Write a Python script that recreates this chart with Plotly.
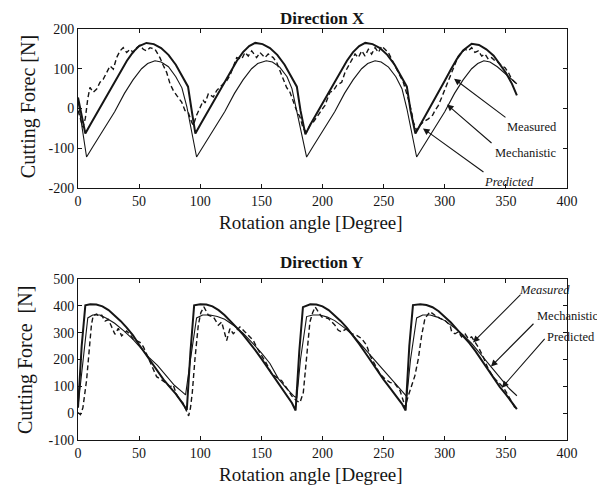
import plotly.graph_objects as go

# ---------------- Direction X data ----------------
mech_x_ang = [0, 3, 6, 10, 15, 20, 25, 30, 35, 40, 45, 50, 56, 62, 68, 74, 80, 85, 88, 90, 93, 96,
              100, 105, 110, 115, 120, 125, 130, 135, 140, 145, 151, 157, 163, 169, 174, 177, 179, 182, 186,
              190, 195, 200, 205, 210, 215, 220, 225, 230, 235, 241, 247, 253, 259, 264, 267, 269, 272, 276,
              280, 285, 290, 295, 300, 305, 310, 315, 322, 328, 334, 340, 345, 350, 355, 359]
mech_x_val = [28, -20, -63, -41, -14, 14, 41, 68, 94, 120, 142, 157, 165, 162, 152, 135, 110, 84, 68, 55, -5, -63,
              -41, -14, 14, 41, 68, 94, 120, 142, 157, 165, 162, 152, 135, 110, 84, 68, 55, -5, -65,
              -41, -14, 14, 41, 68, 94, 120, 142, 157, 165, 162, 152, 135, 110, 84, 68, 55, -5, -63,
              -41, -14, 14, 41, 70, 98, 125, 146, 163, 160, 149, 133, 112, 90, 62, 33]

pred_x_ang = [0, 7, 12, 18, 25, 30, 38, 45, 52, 57, 63, 68, 74, 80, 85, 89, 97,
              102, 108, 115, 120, 128, 135, 142, 147, 154, 159, 165, 171, 175, 179, 187,
              192, 198, 205, 210, 218, 225, 232, 237, 243, 248, 254, 260, 265, 269, 277,
              282, 288, 295, 300, 308, 315, 322, 327, 332, 337, 343, 349, 354, 359]
pred_x_val = [20, -122, -97, -68, -34, -8, 38, 72, 100, 113, 120, 117, 105, 80, 52, 5, -122,
              -97, -68, -34, -8, 38, 72, 100, 113, 120, 117, 104, 80, 50, -5, -122,
              -97, -68, -34, -8, 38, 72, 100, 113, 120, 117, 104, 80, 50, 0, -122,
              -97, -68, -34, -8, 38, 72, 100, 113, 120, 117, 105, 88, 75, 62]

meas_x_ang = [0, 2, 4, 6, 8, 9.8, 12.5, 15.3, 18, 20.7, 23.4, 26.2, 28.9, 31.6, 34.4, 37, 39.8, 42.5, 45.3, 48,
              50.7, 53.4, 56.2, 58.9, 63, 67, 69.8, 72.5, 75.3, 78, 80.7, 84.8, 87.5, 90.3, 92.9, 94.3, 97, 99.8,
              102.5, 104, 106.6, 110.7, 113.4, 117.5, 121.6, 124.3, 127, 129.8, 133.9, 136.6, 139.3, 142.1, 146.1,
              148.8, 152.9, 155.6, 159.7, 162.5, 165.2, 167.9, 170.6, 173.4, 176.1, 178.8, 181.6, 184.3, 187,
              189.8, 192.5, 195.2, 198,
              202, 206.1, 208.9, 211.6, 215.7, 218.4, 221.1, 223.9, 226.6, 229.3, 232.1, 234.8, 237.5, 240.2, 243,
              245.7, 248.4, 251.1, 253.8, 257.9, 262, 266.1, 270.2, 272.9, 274.3, 277, 279.7, 282.5, 286.6, 290, 292,
              294.8, 297.5, 300.2, 302.9, 305.7, 308.4, 311.1, 313.8, 316.6, 319.3, 322, 324.7, 327.5, 330.2, 332.9,
              335.6, 338.3, 341.1, 343.8, 346.5, 349.2, 352, 354.7, 357.4, 358.8]
meas_x_val = [-5, -28, -47, -25, 25, 53, 41, 49, 66, 74, 91, 107, 99, 128, 145, 153, 141, 149, 141, 153,
              159, 149, 145, 153, 149, 128, 108, 91, 62, 45, 33, 16, -5, -11, -34, -42, -17, 3,
              20, 14, 37, 29, 45, 58, 70, 83, 103, 128, 124, 141, 132, 145, 128,
              141, 128, 137, 128, 116, 95, 74, 53, 41, 16, -5, -22, -51, -59,
              -42, -34, -22, -9,
              8, 41, 45, 58, 66, 91, 107, 124, 137, 128, 145, 132, 149, 137, 153,
              141, 157, 149, 141, 116, 91, 66, 24, -9, -34, -55, -42, -34, -26, -17, -5,
              8, 28, 49, 70, 95, 116, 132, 141, 149, 145, 153, 141, 145, 132, 137,
              124, 128, 120, 116, 107, 103, 91, 74, 66, 62]

# ---------------- Direction Y data ----------------
mech_y_ang = [0, 3, 6, 10, 15, 20, 25, 30, 35, 40, 45, 50, 55, 60, 65, 70, 75, 80, 85, 89,
              92, 95, 100, 105, 110, 115, 120, 125, 130, 135, 140, 145, 150, 155, 160, 165, 170, 175, 178,
              181, 184, 190, 195, 200, 205, 210, 215, 220, 225, 230, 235, 240, 245, 250, 255, 260, 265, 268,
              271, 274, 280, 285, 290, 295, 300, 305, 310, 315, 320, 325, 330, 335, 340, 345, 350, 355, 359]
mech_y_val = [20, 250, 402, 406, 405, 398, 384, 365, 343, 318, 290, 255, 222, 190, 158, 125, 98, 72, 40, 12,
              230, 402, 406, 405, 398, 384, 365, 343, 318, 293, 265, 235, 203, 170, 135, 100, 70, 38, 10,
              230, 395, 406, 405, 398, 384, 365, 343, 318, 290, 258, 225, 190, 158, 125, 95, 65, 35, 10,
              250, 403, 406, 403, 395, 380, 360, 338, 312, 288, 262, 232, 198, 165, 130, 98, 70, 40, 15]

pred_y_ang = [0, 4, 8, 12, 18, 24, 30, 38, 45, 52, 58, 65, 72, 79, 85, 88,
              92, 97, 102, 108, 114, 120, 128, 135, 142, 150, 157, 164, 170, 177, 179,
              182, 187, 192, 198, 204, 210, 218, 225, 232, 240, 247, 254, 261, 267, 269,
              272, 277, 282, 288, 294, 300, 308, 315, 322, 330, 338, 345, 352, 359]
pred_y_val = [25, 200, 355, 366, 366, 352, 335, 305, 275, 240, 208, 178, 140, 103, 80, 68,
              200, 355, 366, 366, 360, 350, 325, 298, 265, 225, 185, 128, 95, 62, 58,
              200, 360, 366, 366, 358, 345, 318, 290, 255, 212, 175, 140, 105, 72, 62,
              200, 355, 366, 366, 358, 345, 318, 292, 260, 215, 170, 130, 95, 65]

meas_y_ang = [0, 2, 4, 6, 7, 8.5, 9.8, 11, 12.5, 15.3, 17, 19.4, 22.1, 24.8, 27.6, 30.2, 33, 35.7, 39.8, 42.5,
              45.3, 47.9, 50.7, 53.4, 56.2, 58.9, 61.6, 64.3, 68.4, 72.5, 75.2, 77.9, 80.7, 83.4, 86.1, 88.9, 90.5,
              92, 93.5, 95.7, 98.4, 100.5, 103, 106.6, 110.7, 114.8, 117.5, 121.6, 124.3, 127, 129.8, 132.5, 136.6,
              140.7, 143.4, 146.1, 150.2, 154.3, 158.4, 162.5, 166.6, 169.3, 172, 174.8, 178.8, 181.6, 184.3, 187,
              189.7, 192, 194, 199.3, 204.8, 210.2, 212.9, 215.7, 219.8, 223.9, 228, 232, 236.1, 238.9, 243, 247,
              251.1, 255.2, 259.3, 263.4, 266.1, 267.5, 270.2, 272.9, 275.6, 278.4, 281.1, 283.8, 287.9, 292,
              296.1, 300.2, 304.3, 305.7, 308.4, 311.1, 313.8, 316.6, 319.3, 322, 324.7, 327.5, 331.5, 335.6,
              339.7, 343.8, 347.9, 352, 356.1, 358]
meas_y_val = [2, -5, 20, 80, 122, 200, 265, 330, 365, 369, 360, 365, 343, 349, 321, 294, 316, 288, 306, 294,
              275, 269, 264, 248, 220, 190, 160, 136, 124, 111, 98, 105, 68, 49, 36, 8, -10,
              20, 77, 203, 328, 375, 396, 365, 359, 328, 340, 271, 315, 296, 309, 321, 303,
              284, 271, 246, 215, 184, 146, 134, 121, 103, 84, 65, 46, 40, 77, 203,
              340, 375, 396, 359, 353, 328, 309, 303, 315, 296, 290, 278, 253, 215, 178, 146,
              128, 115, 109, 84, 46, 21, 65, 103, 140, 203, 290, 353, 378, 365,
              353, 346, 328, 303, 296, 303, 284, 296, 278, 284, 265, 246, 209, 165,
              134, 115, 96, 65, 34, 15]

x_ticks = [0, 50, 100, 150, 200, 250, 300, 350, 400]
yx_ticks = [-200, -100, 0, 100, 200]
yy_ticks = [-100, 0, 100, 200, 300, 400, 500]

INK = "#151515"
SERIF = "Liberation Serif, Times New Roman, serif"

fig = go.Figure()

def add_set(ang, val, xa, ya, style):
    fig.add_trace(go.Scatter(x=ang, y=val, mode="lines", xaxis=xa, yaxis=ya,
                             line=style, showlegend=False, hoverinfo="skip"))

thick = dict(color=INK, width=2.0)
thin = dict(color=INK, width=1.1)
dashed = dict(color=INK, width=1.4, dash="5px,3px")

add_set(pred_x_ang, pred_x_val, "x", "y", thin)
add_set(mech_x_ang, mech_x_val, "x", "y", thick)
add_set(meas_x_ang, meas_x_val, "x", "y", dashed)
add_set(pred_y_ang, pred_y_val, "x2", "y2", thin)
add_set(mech_y_ang, mech_y_val, "x2", "y2", thick)
add_set(meas_y_ang, meas_y_val, "x2", "y2", dashed)

def lbl(v):
    return [str(t) for t in v]

axis_common = dict(showline=True, linecolor=INK, linewidth=1, mirror="ticks", ticks="inside",
                   ticklen=4, tickcolor=INK, showgrid=False, zeroline=False,
                   tickfont=dict(family=SERIF, size=14, color=INK))

fig.update_layout(
    width=605, height=488,
    margin=dict(l=70, r=46, t=21, b=56),
    paper_bgcolor="white", plot_bgcolor="white",
    xaxis=dict(domain=[0, 1], range=[0, 400], anchor="y", tickvals=x_ticks, ticktext=lbl(x_ticks), **axis_common),
    yaxis=dict(domain=[0.6131, 1], range=[-200, 200], anchor="x", tickvals=yx_ticks, ticktext=lbl(yx_ticks), **axis_common),
    xaxis2=dict(domain=[0, 1], range=[0, 400], anchor="y2", tickvals=x_ticks, ticktext=lbl(x_ticks), **axis_common),
    yaxis2=dict(domain=[0, 0.3917], range=[-100, 500], anchor="x2", tickvals=yy_ticks, ticktext=lbl(yy_ticks), **axis_common),
)

ann = []

def ptext(text, x, y, size, angle=0):
    ann.append(dict(text=text, xref="paper", yref="paper", x=x, y=y, xanchor="center", yanchor="middle",
                    textangle=angle, showarrow=False, font=dict(family=SERIF, size=size, color=INK)))

# titles
ptext("<b>Direction X</b>", 0.499, 1.0265, 17)
ptext("<b>Direction Y</b>", 0.499, 0.433, 17)
# axis titles
ptext("Rotation angle [Degree]", 0.4755, 0.530, 19)
ptext("Rotation angle [Degree]", 0.4755, -0.083, 19)
ptext("Cutting Forec [N]", -0.102, 0.81, 20, -90)
ptext("Cutting Force  [N]", -0.106, 0.195, 20, -90)

# arrows (tail -> tip)
def arrow(xref, yref, tail, tip):
    ann.append(dict(text="", xref=xref, yref=yref, axref=xref, ayref=yref,
                    x=tip[0], y=tip[1], ax=tail[0], ay=tail[1], showarrow=True,
                    arrowhead=2, arrowsize=1.2, arrowwidth=1.1, arrowcolor=INK))

arrow("x", "y", (350.9, -25), (307.6, 75))
arrow("x", "y", (339.5, -90), (301.8, 10))
arrow("x", "y", (332.9, -162.5), (282.2, -50))
arrow("x2", "y2", (363.2, 447.5), (323.1, 263.8))
arrow("x2", "y2", (373.8, 338.8), (337.8, 173.8))
arrow("x2", "y2", (382.8, 282.5), (346.8, 95))

# series labels
ptext("Measured", 0.928, 0.7616, 12.5)
ptext("Mechanistic", 0.916, 0.698, 12.5)
ptext("<i>Predicted</i>", 0.881, 0.628, 12.5)
ptext("<i>Measured</i>", 0.955, 0.365, 12.5)
ptext("Mechanistic", 1.002, 0.302, 12.5)
ptext("Predicted", 1.008, 0.251, 12.5)

fig.update_layout(annotations=ann)
fig.write_html("out.html")
